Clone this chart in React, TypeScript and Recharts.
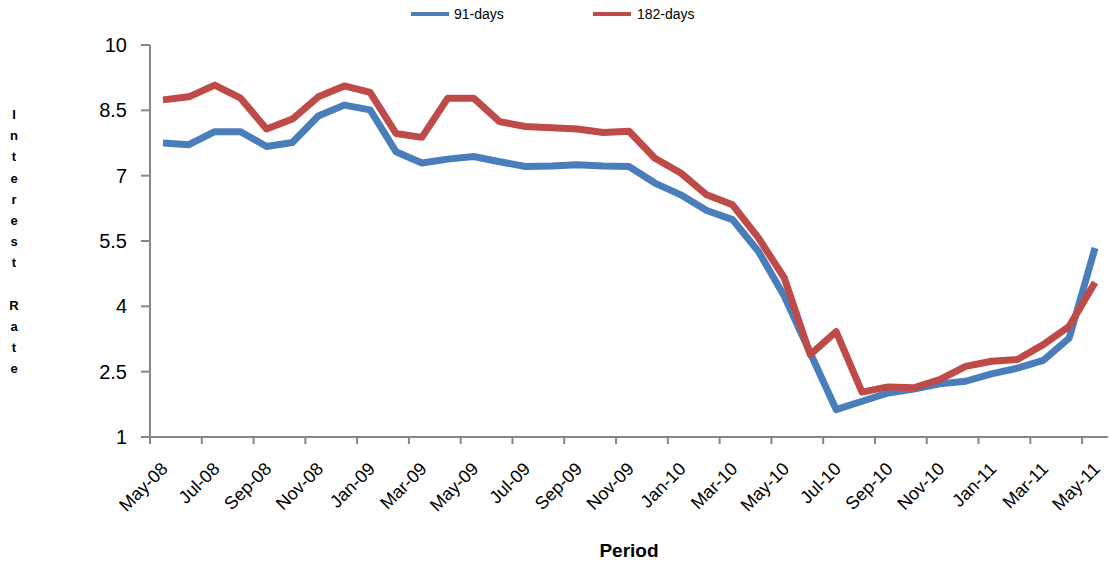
import { LineChart, Line, XAxis, YAxis, Legend, Label } from "recharts";

const months = [
  "May-08", "Jun-08", "Jul-08", "Aug-08", "Sep-08", "Oct-08", "Nov-08", "Dec-08",
  "Jan-09", "Feb-09", "Mar-09", "Apr-09", "May-09", "Jun-09", "Jul-09", "Aug-09",
  "Sep-09", "Oct-09", "Nov-09", "Dec-09", "Jan-10", "Feb-10", "Mar-10", "Apr-10",
  "May-10", "Jun-10", "Jul-10", "Aug-10", "Sep-10", "Oct-10", "Nov-10", "Dec-10",
  "Jan-11", "Feb-11", "Mar-11", "Apr-11", "May-11",
];

const days91 = [
  7.75, 7.71, 8.01, 8.01, 7.67, 7.76, 8.37, 8.62, 8.51, 7.55, 7.29,
  7.38, 7.44, 7.32, 7.21, 7.22, 7.25, 7.22, 7.21, 6.83, 6.56, 6.2, 5.99,
  5.26, 4.23, 2.93, 1.63, 1.82, 2.01,
  2.1, 2.22, 2.28, 2.45, 2.58, 2.76, 3.27, 5.34,
];

const days182 = [
  8.74, 8.81, 9.08, 8.78, 8.07, 8.3, 8.81, 9.06, 8.91, 7.97, 7.88,
  8.78, 8.78, 8.24, 8.13, 8.1, 8.07, 7.99, 8.02, 7.4, 7.06, 6.56, 6.33,
  5.57, 4.65, 2.89, 3.42, 2.03, 2.15,
  2.13, 2.32, 2.62, 2.74, 2.78, 3.12, 3.54, 4.55,
];

const yTicks = [1, 2.5, 4, 5.5, 7, 8.5, 10];

const data = months.map((m, i) => ({ month: m, d91: days91[i], d182: days182[i] }));

const W = 1110;
const H = 563;
const PLOT_LEFT = 150;
const PLOT_RIGHT = 1108;
const PLOT_TOP = 45;
const AXIS_Y = 437;
const BAND = (PLOT_RIGHT - PLOT_LEFT) / months.length;
const AXIS_COLOR = "#868686";
const BLUE = "#4A7EBB";
const RED = "#BE4B48";
const FONT = "'Liberation Sans', Arial, sans-serif";

const XTick = (props: any) => {
  const { x, payload } = props;
  const bx = x - BAND / 2;
  const ax = x + 6;
  const ay = AXIS_Y + 33;
  return (
    <g>
      <line x1={bx} y1={AXIS_Y} x2={bx} y2={AXIS_Y + 7} stroke={AXIS_COLOR} strokeWidth={2} />
      <text
        x={ax}
        y={ay}
        textAnchor="end"
        fontSize={18}
        fontFamily={FONT}
        fill="#000"
        transform={`rotate(-45, ${ax}, ${ay})`}
      >
        {payload.value}
      </text>
    </g>
  );
};

const LegendContent = () => (
  <svg width={W} height={30}>
    <line x1={411} y1={14} x2={449} y2={14} stroke={BLUE} strokeWidth={4} />
    <text x={454} y={19} fontSize={14} fontFamily={FONT} fill="#000">91-days</text>
    <line x1={593} y1={14} x2={631} y2={14} stroke={RED} strokeWidth={4} />
    <text x={637} y={19} fontSize={14} fontFamily={FONT} fill="#000">182-days</text>
  </svg>
);

const yTitle = "Interest Rate".split("");

const YTitle = () => (
  <text fontSize={13} fontWeight="bold" fontFamily={FONT} fill="#000" textAnchor="middle">
    {yTitle.map((c, i) => (
      <tspan key={i} x={14} y={119 + i * 21.2}>{c === " " ? "\u00a0" : c}</tspan>
    ))}
  </text>
);

export default function App() {
  return (
    <div style={{ position: "absolute", left: 0, top: 0, width: W, height: H, background: "#fff" }}>
      <LineChart
        width={W}
        height={H}
        data={data}
        margin={{ top: PLOT_TOP, right: W - PLOT_RIGHT, bottom: 0, left: 0 }}
      >
        <XAxis
          dataKey="month"
          interval={1}
          height={H - AXIS_Y}
          padding={{ left: BAND / 2, right: BAND / 2 }}
          tick={<XTick />}
          tickLine={false}
          axisLine={{ stroke: AXIS_COLOR, strokeWidth: 2 }}
        >
          <Label
            content={() => (
              <text x={629} y={557} textAnchor="middle" fontSize={19} fontWeight="bold" fontFamily={FONT} fill="#000">
                Period
              </text>
            )}
          />
        </XAxis>
        <YAxis
          width={PLOT_LEFT}
          domain={[1, 10]}
          ticks={yTicks}
          tickSize={9}
          tickMargin={14}
          tick={{ fontSize: 20, fill: "#000", fontFamily: FONT }}
          tickLine={{ stroke: AXIS_COLOR, strokeWidth: 2 }}
          axisLine={{ stroke: AXIS_COLOR, strokeWidth: 2 }}
        >
          <Label content={() => <YTitle />} />
        </YAxis>
        <Legend
          verticalAlign="middle"
          layout="horizontal"
          content={() => <LegendContent />}
          wrapperStyle={{ top: 0, left: 0, width: W, height: 30 }}
        />
        <Line
          dataKey="d91"
          name="91-days"
          stroke={BLUE}
          strokeWidth={7}
          dot={false}
          strokeLinejoin="round"
          isAnimationActive={false}
        />
        <Line
          dataKey="d182"
          name="182-days"
          stroke={RED}
          strokeWidth={7}
          dot={false}
          strokeLinejoin="round"
          isAnimationActive={false}
        />
      </LineChart>
    </div>
  );
}
